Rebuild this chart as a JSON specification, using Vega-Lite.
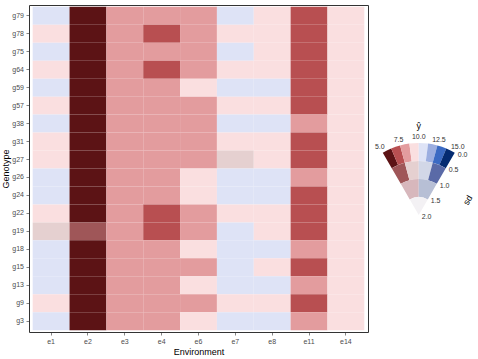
{
  "$schema": "https://vega.github.io/schema/vega-lite/v6.json",
  "padding": {"left": 0, "top": 4, "right": 0, "bottom": 2},
  "config": {
    "font": "Liberation Sans",
    "view": {"stroke": "#333333", "strokeWidth": 1},
    "concat": {"spacing": 0},
    "axis": {
      "labelFont": "Liberation Sans",
      "labelFontSize": 7,
      "labelColor": "#4d4d4d",
      "titleFont": "Liberation Sans",
      "titleFontSize": 9,
      "titleFontWeight": "normal",
      "titleColor": "#000000",
      "tickColor": "#333333",
      "tickSize": 3,
      "tickWidth": 0.6,
      "domain": false,
      "grid": false
    }
  },
  "datasets": {
    "cells": [
      {"G":"g79","E":"e1","bin":"r1b5"},{"G":"g79","E":"e2","bin":"r1b1"},{"G":"g79","E":"e3","bin":"r1b3"},{"G":"g79","E":"e4","bin":"r1b3"},{"G":"g79","E":"e6","bin":"r1b3"},{"G":"g79","E":"e7","bin":"r1b5"},{"G":"g79","E":"e8","bin":"r1b4"},{"G":"g79","E":"e11","bin":"r1b2"},{"G":"g79","E":"e14","bin":"r1b4"},
      {"G":"g78","E":"e1","bin":"r1b4"},{"G":"g78","E":"e2","bin":"r1b1"},{"G":"g78","E":"e3","bin":"r1b3"},{"G":"g78","E":"e4","bin":"r1b2"},{"G":"g78","E":"e6","bin":"r1b3"},{"G":"g78","E":"e7","bin":"r1b4"},{"G":"g78","E":"e8","bin":"r1b4"},{"G":"g78","E":"e11","bin":"r1b2"},{"G":"g78","E":"e14","bin":"r1b4"},
      {"G":"g75","E":"e1","bin":"r1b5"},{"G":"g75","E":"e2","bin":"r1b1"},{"G":"g75","E":"e3","bin":"r1b3"},{"G":"g75","E":"e4","bin":"r1b3"},{"G":"g75","E":"e6","bin":"r1b3"},{"G":"g75","E":"e7","bin":"r1b5"},{"G":"g75","E":"e8","bin":"r1b4"},{"G":"g75","E":"e11","bin":"r1b2"},{"G":"g75","E":"e14","bin":"r1b4"},
      {"G":"g64","E":"e1","bin":"r1b4"},{"G":"g64","E":"e2","bin":"r1b1"},{"G":"g64","E":"e3","bin":"r1b3"},{"G":"g64","E":"e4","bin":"r1b2"},{"G":"g64","E":"e6","bin":"r1b3"},{"G":"g64","E":"e7","bin":"r1b4"},{"G":"g64","E":"e8","bin":"r1b4"},{"G":"g64","E":"e11","bin":"r1b2"},{"G":"g64","E":"e14","bin":"r1b4"},
      {"G":"g59","E":"e1","bin":"r1b5"},{"G":"g59","E":"e2","bin":"r1b1"},{"G":"g59","E":"e3","bin":"r1b3"},{"G":"g59","E":"e4","bin":"r1b3"},{"G":"g59","E":"e6","bin":"r1b4"},{"G":"g59","E":"e7","bin":"r1b5"},{"G":"g59","E":"e8","bin":"r1b5"},{"G":"g59","E":"e11","bin":"r1b2"},{"G":"g59","E":"e14","bin":"r1b4"},
      {"G":"g57","E":"e1","bin":"r1b4"},{"G":"g57","E":"e2","bin":"r1b1"},{"G":"g57","E":"e3","bin":"r1b3"},{"G":"g57","E":"e4","bin":"r1b3"},{"G":"g57","E":"e6","bin":"r1b3"},{"G":"g57","E":"e7","bin":"r1b4"},{"G":"g57","E":"e8","bin":"r1b4"},{"G":"g57","E":"e11","bin":"r1b2"},{"G":"g57","E":"e14","bin":"r1b4"},
      {"G":"g38","E":"e1","bin":"r1b5"},{"G":"g38","E":"e2","bin":"r1b1"},{"G":"g38","E":"e3","bin":"r1b3"},{"G":"g38","E":"e4","bin":"r1b3"},{"G":"g38","E":"e6","bin":"r1b3"},{"G":"g38","E":"e7","bin":"r1b5"},{"G":"g38","E":"e8","bin":"r1b5"},{"G":"g38","E":"e11","bin":"r1b3"},{"G":"g38","E":"e14","bin":"r1b4"},
      {"G":"g31","E":"e1","bin":"r1b4"},{"G":"g31","E":"e2","bin":"r1b1"},{"G":"g31","E":"e3","bin":"r1b3"},{"G":"g31","E":"e4","bin":"r1b3"},{"G":"g31","E":"e6","bin":"r1b3"},{"G":"g31","E":"e7","bin":"r1b4"},{"G":"g31","E":"e8","bin":"r1b4"},{"G":"g31","E":"e11","bin":"r1b2"},{"G":"g31","E":"e14","bin":"r1b4"},
      {"G":"g27","E":"e1","bin":"r1b4"},{"G":"g27","E":"e2","bin":"r1b1"},{"G":"g27","E":"e3","bin":"r1b3"},{"G":"g27","E":"e4","bin":"r1b3"},{"G":"g27","E":"e6","bin":"r1b3"},{"G":"g27","E":"e7","bin":"r2b2"},{"G":"g27","E":"e8","bin":"r1b4"},{"G":"g27","E":"e11","bin":"r1b2"},{"G":"g27","E":"e14","bin":"r1b4"},
      {"G":"g26","E":"e1","bin":"r1b5"},{"G":"g26","E":"e2","bin":"r1b1"},{"G":"g26","E":"e3","bin":"r1b3"},{"G":"g26","E":"e4","bin":"r1b3"},{"G":"g26","E":"e6","bin":"r1b4"},{"G":"g26","E":"e7","bin":"r1b5"},{"G":"g26","E":"e8","bin":"r1b5"},{"G":"g26","E":"e11","bin":"r1b3"},{"G":"g26","E":"e14","bin":"r1b4"},
      {"G":"g24","E":"e1","bin":"r1b5"},{"G":"g24","E":"e2","bin":"r1b1"},{"G":"g24","E":"e3","bin":"r1b3"},{"G":"g24","E":"e4","bin":"r1b3"},{"G":"g24","E":"e6","bin":"r1b4"},{"G":"g24","E":"e7","bin":"r1b5"},{"G":"g24","E":"e8","bin":"r1b5"},{"G":"g24","E":"e11","bin":"r1b2"},{"G":"g24","E":"e14","bin":"r1b4"},
      {"G":"g22","E":"e1","bin":"r1b4"},{"G":"g22","E":"e2","bin":"r1b1"},{"G":"g22","E":"e3","bin":"r1b3"},{"G":"g22","E":"e4","bin":"r1b2"},{"G":"g22","E":"e6","bin":"r1b3"},{"G":"g22","E":"e7","bin":"r1b4"},{"G":"g22","E":"e8","bin":"r1b4"},{"G":"g22","E":"e11","bin":"r1b2"},{"G":"g22","E":"e14","bin":"r1b4"},
      {"G":"g19","E":"e1","bin":"r2b2"},{"G":"g19","E":"e2","bin":"r2b1"},{"G":"g19","E":"e3","bin":"r1b3"},{"G":"g19","E":"e4","bin":"r1b2"},{"G":"g19","E":"e6","bin":"r1b3"},{"G":"g19","E":"e7","bin":"r1b5"},{"G":"g19","E":"e8","bin":"r1b4"},{"G":"g19","E":"e11","bin":"r1b2"},{"G":"g19","E":"e14","bin":"r1b4"},
      {"G":"g18","E":"e1","bin":"r1b5"},{"G":"g18","E":"e2","bin":"r1b1"},{"G":"g18","E":"e3","bin":"r1b3"},{"G":"g18","E":"e4","bin":"r1b3"},{"G":"g18","E":"e6","bin":"r1b4"},{"G":"g18","E":"e7","bin":"r1b5"},{"G":"g18","E":"e8","bin":"r1b5"},{"G":"g18","E":"e11","bin":"r1b3"},{"G":"g18","E":"e14","bin":"r1b4"},
      {"G":"g15","E":"e1","bin":"r1b5"},{"G":"g15","E":"e2","bin":"r1b1"},{"G":"g15","E":"e3","bin":"r1b3"},{"G":"g15","E":"e4","bin":"r1b3"},{"G":"g15","E":"e6","bin":"r1b3"},{"G":"g15","E":"e7","bin":"r1b5"},{"G":"g15","E":"e8","bin":"r1b4"},{"G":"g15","E":"e11","bin":"r1b2"},{"G":"g15","E":"e14","bin":"r1b4"},
      {"G":"g13","E":"e1","bin":"r1b5"},{"G":"g13","E":"e2","bin":"r1b1"},{"G":"g13","E":"e3","bin":"r1b3"},{"G":"g13","E":"e4","bin":"r1b3"},{"G":"g13","E":"e6","bin":"r1b4"},{"G":"g13","E":"e7","bin":"r1b5"},{"G":"g13","E":"e8","bin":"r1b5"},{"G":"g13","E":"e11","bin":"r1b3"},{"G":"g13","E":"e14","bin":"r1b4"},
      {"G":"g9","E":"e1","bin":"r1b4"},{"G":"g9","E":"e2","bin":"r1b1"},{"G":"g9","E":"e3","bin":"r1b3"},{"G":"g9","E":"e4","bin":"r1b3"},{"G":"g9","E":"e6","bin":"r1b3"},{"G":"g9","E":"e7","bin":"r1b4"},{"G":"g9","E":"e8","bin":"r1b4"},{"G":"g9","E":"e11","bin":"r1b2"},{"G":"g9","E":"e14","bin":"r1b4"},
      {"G":"g3","E":"e1","bin":"r1b5"},{"G":"g3","E":"e2","bin":"r1b1"},{"G":"g3","E":"e3","bin":"r1b3"},{"G":"g3","E":"e4","bin":"r1b3"},{"G":"g3","E":"e6","bin":"r1b4"},{"G":"g3","E":"e7","bin":"r1b5"},{"G":"g3","E":"e8","bin":"r1b5"},{"G":"g3","E":"e11","bin":"r1b3"},{"G":"g3","E":"e14","bin":"r1b4"}
    ],
    "fan": [
      {"v0":5,"v1":6.25,"s0":0,"s1":0.5,"bin":"r1b1"},
      {"v0":6.25,"v1":7.5,"s0":0,"s1":0.5,"bin":"r1b2"},
      {"v0":7.5,"v1":8.75,"s0":0,"s1":0.5,"bin":"r1b3"},
      {"v0":8.75,"v1":10,"s0":0,"s1":0.5,"bin":"r1b4"},
      {"v0":10,"v1":11.25,"s0":0,"s1":0.5,"bin":"r1b5"},
      {"v0":11.25,"v1":12.5,"s0":0,"s1":0.5,"bin":"r1b6"},
      {"v0":12.5,"v1":13.75,"s0":0,"s1":0.5,"bin":"r1b7"},
      {"v0":13.75,"v1":15,"s0":0,"s1":0.5,"bin":"r1b8"},
      {"v0":5,"v1":7.5,"s0":0.5,"s1":1,"bin":"r2b1"},
      {"v0":7.5,"v1":10,"s0":0.5,"s1":1,"bin":"r2b2"},
      {"v0":10,"v1":12.5,"s0":0.5,"s1":1,"bin":"r2b3"},
      {"v0":12.5,"v1":15,"s0":0.5,"s1":1,"bin":"r2b4"},
      {"v0":5,"v1":10,"s0":1,"s1":1.5,"bin":"r3b1"},
      {"v0":10,"v1":15,"s0":1,"s1":1.5,"bin":"r3b2"},
      {"v0":5,"v1":15,"s0":1.5,"s1":2,"bin":"r4b1"}
    ],
    "vlab": [
      {"v":5,"sd":0},{"v":7.5,"sd":0},{"v":10,"sd":0},{"v":12.5,"sd":0},{"v":15,"sd":0}
    ],
    "sdlab": [
      {"v":15,"sd":0},{"v":15,"sd":0.5},{"v":15,"sd":1},{"v":15,"sd":1.5},{"v":15,"sd":2}
    ],
    "titles": [
      {"v":10,"sd":0,"t":"ŷ"}
    ],
    "sdtitle": [
      {"v":15,"sd":1,"t":"sd"}
    ]
  },
  "hconcat": [
    {
      "width": 339,
      "height": 327,
      "data": {"name": "cells"},
      "mark": {"type": "rect"},
      "encoding": {
        "x": {
          "field": "E", "type": "nominal",
          "sort": ["e1","e2","e3","e4","e6","e7","e8","e11","e14"],
          "scale": {"paddingInner": 0, "paddingOuter": 0.1},
          "axis": {"title": "Environment", "labelAngle": 0, "labelPadding": 2, "titlePadding": 3}
        },
        "y": {
          "field": "G", "type": "nominal",
          "sort": ["g79","g78","g75","g64","g59","g57","g38","g31","g27","g26","g24","g22","g19","g18","g15","g13","g9","g3"],
          "scale": {"paddingInner": 0, "paddingOuter": 0.1},
          "axis": {"title": "Genotype", "labelPadding": 2.5, "titlePadding": 1.5}
        },
        "color": {
          "field": "bin", "type": "nominal",
          "scale": {
            "domain": ["r1b1","r1b2","r1b3","r1b4","r1b5","r1b6","r1b7","r1b8","r2b1","r2b2","r2b3","r2b4","r3b1","r3b2","r4b1"],
            "range": ["#5c1315","#b84f51","#e39c9e","#fadfe0","#dee3f6","#9caee0","#3b6ac3","#052b71","#9f5658","#e5d0d0","#d2d7e7","#5a6aa7","#d7b7bc","#b7bfd5","#f3f1f4"]
          },
          "legend": null
        }
      }
    },
    {
      "width": 99.5,
      "height": 210,
      "view": {"stroke": null},
      "layer": [
        {
          "data": {"name": "fan"},
          "mark": {"type": "arc", "y": "height"},
          "encoding": {
            "theta": {"field": "v0", "type": "quantitative", "scale": {"domain": [5, 15], "range": [-0.5236, 0.5236]}},
            "theta2": {"field": "v1"},
            "radius": {"field": "s0", "type": "quantitative", "scale": {"type": "linear", "domain": [0, 2], "range": [72, 0], "zero": false}},
            "radius2": {"field": "s1"},
            "color": {
              "field": "bin", "type": "nominal",
              "scale": {
                "domain": ["r1b1","r1b2","r1b3","r1b4","r1b5","r1b6","r1b7","r1b8","r2b1","r2b2","r2b3","r2b4","r3b1","r3b2","r4b1"],
                "range": ["#5c1315","#b84f51","#e39c9e","#fadfe0","#dee3f6","#9caee0","#3b6ac3","#052b71","#9f5658","#e5d0d0","#d2d7e7","#5a6aa7","#d7b7bc","#b7bfd5","#f3f1f4"]
              },
              "legend": null
            }
          }
        },
        {
          "data": {"name": "vlab"},
          "mark": {"type": "text", "y": "height", "radiusOffset": 6, "fontSize": 7, "color": "#333333", "align": "center", "baseline": "middle"},
          "encoding": {
            "theta": {"field": "v", "type": "quantitative", "stack": null},
            "radius": {"field": "sd", "type": "quantitative"},
            "text": {"field": "v", "type": "quantitative", "format": ".1f"}
          }
        },
        {
          "data": {"name": "sdlab"},
          "mark": {"type": "text", "y": "height", "fontSize": 7, "color": "#333333", "align": "left", "baseline": "middle", "dx": 3, "dy": 2},
          "encoding": {
            "theta": {"field": "v", "type": "quantitative", "stack": null},
            "radius": {"field": "sd", "type": "quantitative"},
            "text": {"field": "sd", "type": "quantitative", "format": ".1f"}
          }
        },
        {
          "data": {"name": "titles"},
          "mark": {"type": "text", "y": "height", "radiusOffset": 17, "fontSize": 9, "color": "#000000", "align": "center", "baseline": "middle"},
          "encoding": {
            "theta": {"field": "v", "type": "quantitative", "stack": null},
            "radius": {"field": "sd", "type": "quantitative"},
            "text": {"field": "t"}
          }
        },
        {
          "data": {"name": "sdtitle"},
          "mark": {"type": "text", "y": "height", "fontSize": 9, "color": "#000000", "align": "center", "baseline": "middle", "angle": 300, "dx": 1.5, "dy": 35},
          "encoding": {
            "theta": {"field": "v", "type": "quantitative", "stack": null},
            "radius": {"field": "sd", "type": "quantitative"},
            "text": {"field": "t"}
          }
        }
      ]
    }
  ]
}
